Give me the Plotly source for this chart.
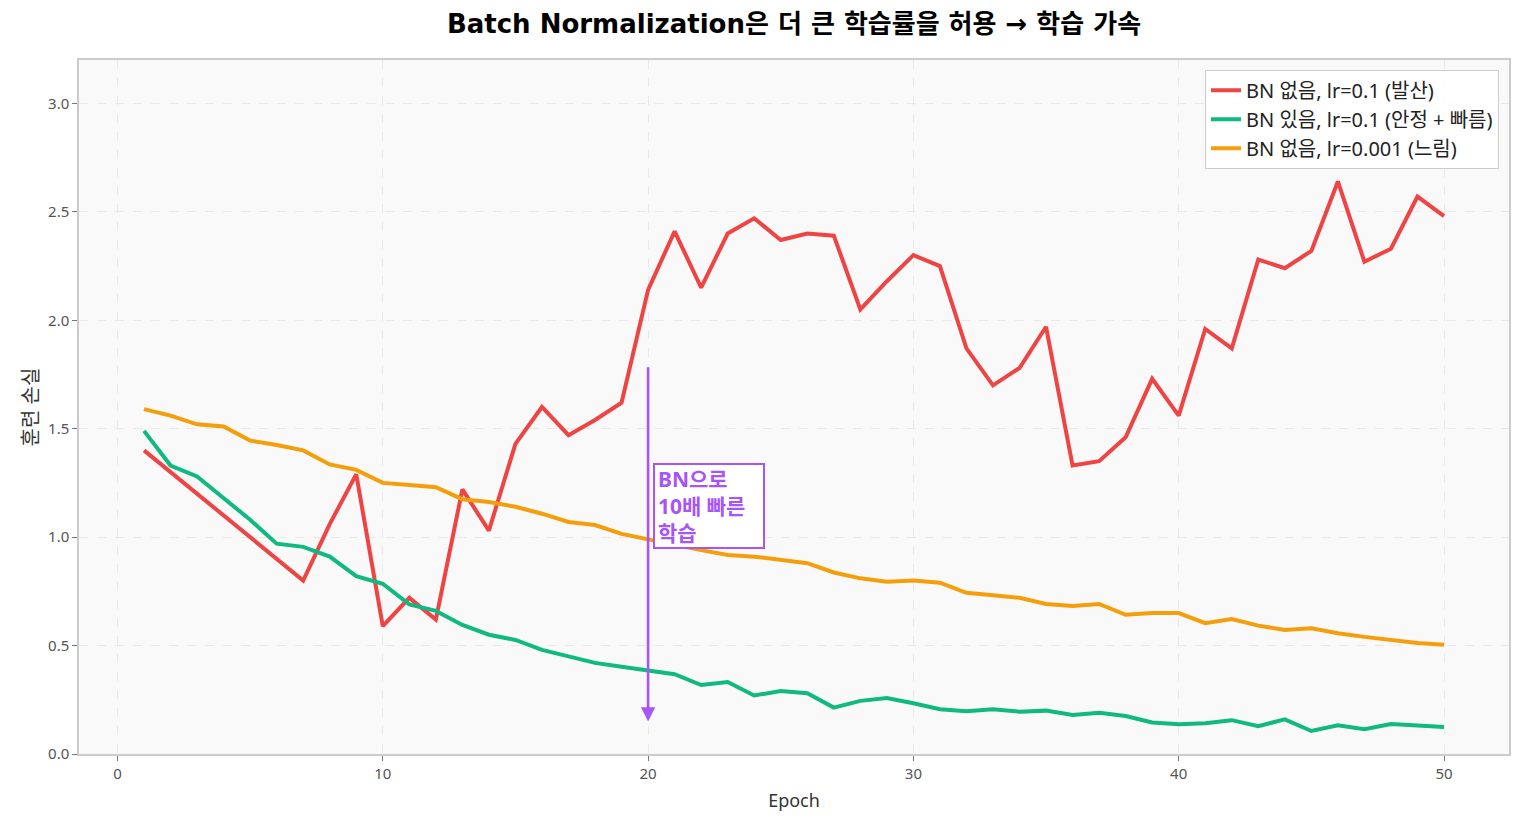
import plotly.graph_objects as go

# Loss values.
epochs = list(range(1, 51))

loss_no_bn_high_lr = [
    1.40, 1.30, 1.20, 1.10, 1.00, 0.90, 0.80, 1.06, 1.29, 0.59,
    0.72, 0.62, 1.22, 1.03, 1.43, 1.60, 1.47, 1.54, 1.62, 2.14,
    2.41, 2.15, 2.40, 2.47, 2.37, 2.40, 2.39, 2.05, 2.18, 2.30,
    2.25, 1.87, 1.70, 1.78, 1.97, 1.33, 1.35, 1.46, 1.73, 1.56,
    1.96, 1.87, 2.28, 2.24, 2.32, 2.64, 2.27, 2.33, 2.57, 2.48,
]
loss_bn_high_lr = [
    1.49, 1.33, 1.28, 1.18, 1.08, 0.97, 0.955, 0.91, 0.82, 0.785,
    0.69, 0.66, 0.595, 0.55, 0.526, 0.48, 0.449, 0.42, 0.402, 0.383,
    0.368, 0.318, 0.332, 0.27, 0.29, 0.28, 0.214, 0.245, 0.258, 0.234,
    0.206, 0.197, 0.206, 0.195, 0.20, 0.18, 0.19, 0.175, 0.145, 0.137,
    0.142, 0.156, 0.128, 0.16, 0.106, 0.132, 0.114, 0.138, 0.132, 0.124,
]
loss_no_bn_low_lr = [
    1.59, 1.56, 1.52, 1.51, 1.445, 1.425, 1.40, 1.335, 1.31, 1.25,
    1.24, 1.23, 1.175, 1.162, 1.14, 1.108, 1.07, 1.056, 1.015, 0.992,
    0.965, 0.94, 0.918, 0.91, 0.895, 0.88, 0.837, 0.81, 0.794, 0.80,
    0.79, 0.743, 0.732, 0.72, 0.692, 0.682, 0.692, 0.642, 0.65, 0.65,
    0.603, 0.622, 0.592, 0.572, 0.58, 0.557, 0.54, 0.525, 0.512, 0.504,
]

series_names = [
    "BN 없음, lr=0.1 (발산)",
    "BN 있음, lr=0.1 (안정 + 빠름)",
    "BN 없음, lr=0.001 (느림)",
]
series_colors = ["#ef4444", "#10b981", "#f59e0b"]

x_ticks = [0, 10, 20, 30, 40, 50]
y_ticks = [0.0, 0.5, 1.0, 1.5, 2.0, 2.5, 3.0]

title_text = "<b>Batch Normalization은 더 큰 학습률을 허용 → 학습 가속</b>"
note_text = "<b>BN으로<br>10배 빠른<br>학습</b>"
purple = "#a855f7"

font_family = "Noto Sans, Noto Sans CJK KR, sans-serif"
title_family = "DejaVu Sans, Noto Sans CJK KR, sans-serif"

fig = go.Figure()

for i, (values, name, color) in enumerate(zip(
    [loss_no_bn_high_lr, loss_bn_high_lr, loss_no_bn_low_lr], series_names, series_colors
)):
    fig.add_trace(go.Scatter(
        x=epochs,
        y=values,
        mode="lines",
        name=name,
        legendgroup=f"g{i}",
        line=dict(color=color, width=4),
    ))

# Arrow pointing down at epoch 20.
fig.add_annotation(
    x=20, y=0.15, ax=20, ay=1.79,
    xref="x", yref="y", axref="x", ayref="y",
    text="", showarrow=True,
    arrowhead=2, arrowsize=1.1, arrowwidth=2.6, arrowcolor=purple,
)

# Boxed note next to the arrow.
fig.add_annotation(
    x=20.17, y=1.145, xref="x", yref="y",
    text=note_text, showarrow=False,
    xanchor="left", yanchor="middle", align="left",
    width=102, height=76,
    font=dict(family=font_family, size=21, color=purple),
    bgcolor="white", bordercolor=purple, borderwidth=2, borderpad=3,
)

fig.update_layout(
    # page body adds 8px around the figure
    width=1509,
    height=809,
    margin=dict(l=71, r=6, t=52, b=63),
    paper_bgcolor="white",
    plot_bgcolor="#f9f9f9",
    font=dict(family=font_family, size=15, color="#333333"),
    title=dict(
        text=title_text,
        xref="paper", x=0.5, xanchor="center",
        y=0.980, yanchor="middle",
        font=dict(family=title_family, size=26, color="black"),
    ),
    xaxis=dict(
        range=[-1.45, 52.45],
        tickvals=x_ticks,
        title=dict(text="Epoch", font=dict(size=18, color="#333333"), standoff=13),
        showgrid=True, gridcolor="#e9e9e9", griddash="dash", gridwidth=1,
        zeroline=False,
        showline=True, linecolor="#cccccc", linewidth=1.5, mirror=True,
        ticks="outside", ticklen=5, tickcolor="#777777",
        tickfont=dict(size=15, color="#555555"),
    ),
    yaxis=dict(
        range=[0, 3.2],
        tickvals=y_ticks,
        tickformat=".1f",
        title=dict(text="훈련 손실", font=dict(size=20, color="#333333"), standoff=4),
        showgrid=True, gridcolor="#e9e9e9", griddash="dash", gridwidth=1,
        zeroline=False,
        showline=True, linecolor="#cccccc", linewidth=1.5, mirror=True,
        ticks="outside", ticklen=5, tickcolor="#777777",
        tickfont=dict(size=15, color="#555555"),
    ),
    legend=dict(
        x=0.993, y=0.986, xanchor="right", yanchor="top",
        bgcolor="rgba(255,255,255,0.9)",
        bordercolor="#cccccc", borderwidth=1,
        font=dict(family=font_family, size=20, color="#222222"),
        tracegroupgap=0,
    ),
    showlegend=True,
)

fig.write_html("out.html")
